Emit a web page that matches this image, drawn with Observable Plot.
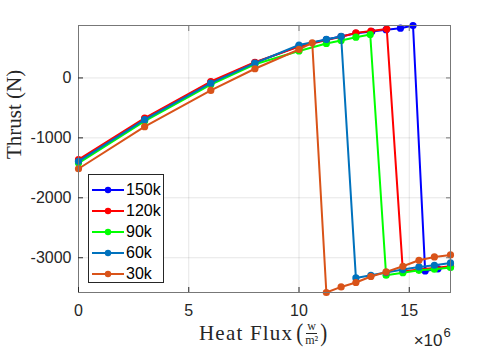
<!DOCTYPE html>
<html><head><meta charset="utf-8">
<script src="https://cdn.jsdelivr.net/npm/d3@7"></script>
<script src="https://cdn.jsdelivr.net/npm/@observablehq/plot@0.6"></script>
<style>
body{margin:0;background:#fff}
#wrap{position:relative;width:498px;height:349px;font-family:"Liberation Sans",Arial,sans-serif}
#legend{position:absolute;left:88px;top:174px;width:76px;height:109px;background:#fff;border:1px solid #262626;box-sizing:border-box;padding-top:4px}
.row{display:flex;align-items:center;height:21px;font-size:16px;color:#000}
.row svg{margin-left:2px;margin-right:1px}
#xlabel{position:absolute;left:199px;top:318px;height:30px;display:flex;align-items:center;font-family:"Liberation Serif","DejaVu Serif",serif;color:#262626;white-space:nowrap}
#xlabel .main{font-size:21px;letter-spacing:1.2px;line-height:1}
#xlabel .par{font-size:21px;display:inline-block;transform:scaleY(1.2);line-height:1}
#xlabel .frac{display:inline-flex;flex-direction:column;align-items:center;font-size:12px;line-height:1.05;margin:0 2px}
#xlabel .num{border-bottom:1px solid #262626;padding:0 1px}
</style>
</head><body><div id="wrap"></div>
<script>
const seriesNames = ["150k","120k","90k","60k","30k"];
const seriesColors = ["#0000ff","#ff0000","#00ff00","#0072bd","#d95319"];

const flux150 = [0,3,6,8,10,11.24,11.91,12.58,13.3,13.95,14.6,15.17,15.72,16.3,16.87];
const thrust150 = [-1380,-685,-75,255,530,640,690,745,775,805,830,875,-3220,-3185,-3150];

const flux120 = [0,3,6,8,10,11.24,11.91,12.58,13.26,13.98,14.71,15.44,16.14,16.87];
const thrust120 = [-1363,-670,-60,262,522,632,688,752,782,815,-3228,-3195,-3170,-3140];

const flux90 = [0,3,6,8,10,11.24,11.91,12.58,13.23,13.95,14.71,15.44,16.14,16.87];
const thrust90 = [-1420,-720,-110,228,450,575,625,680,725,-3292,-3250,-3210,-3192,-3163];

const flux60 = [0,3,6,8,10,11.24,11.91,12.58,13.26,13.95,14.71,15.44,16.14,16.87];
const thrust60 = [-1392,-697,-87,247,550,642,692,-3337,-3292,-3247,-3197,-3153,-3125,-3087];

const flux30 = [0,3,6,8,10,10.6,11.24,11.91,12.58,13.26,13.95,14.71,15.44,16.14,16.87];
const thrust30 = [-1515,-813,-208,153,475,587,-3580,-3487,-3413,-3313,-3237,-3142,-3042,-2987,-2953];

const xTicks = [0,5,10,15];
const yTicks = [-3000,-2000,-1000,0];
const xDomain = [0,16.87];
const yDomain = [-3580,875];

const fluxes = [flux150,flux120,flux90,flux60,flux30];
const thrusts = [thrust150,thrust120,thrust90,thrust60,thrust30];
const rows = [];
seriesNames.forEach((s,i)=>fluxes[i].forEach((f,j)=>rows.push({series:s, flux:f, thrust:thrusts[i][j]})));

const serif = "'Liberation Serif','DejaVu Serif',serif";
const ink = "#262626";

const marks = [
  Plot.gridX(xTicks,{stroke:"#000",strokeOpacity:0.1}),
  Plot.gridY(yTicks,{stroke:"#000",strokeOpacity:0.1}),
];
seriesNames.forEach((s,i)=>{
  const d = rows.filter(r=>r.series===s);
  marks.push(Plot.line(d,{x:"flux",y:"thrust",stroke:seriesColors[i],strokeWidth:2}));
  marks.push(Plot.dot(d,{x:"flux",y:"thrust",fill:seriesColors[i],r:3.6}));
});
marks.push(
  Plot.frame({stroke:"#777",strokeWidth:1}),
  Plot.axisX(xTicks,{anchor:"bottom",tickSize:-5,tickPadding:17,fontSize:16,color:ink,label:null,tickFormat:d=>String(d)}),
  Plot.axisX(xTicks,{anchor:"top",tickSize:-5,tickFormat:()=>"",label:null,stroke:"#777"}),
  Plot.axisY(yTicks,{anchor:"left",tickSize:-5,tickPadding:12,fontSize:16,color:ink,label:null,tickFormat:d=>String(d)}),
  Plot.axisY(yTicks,{anchor:"right",tickSize:-5,tickFormat:()=>"",label:null,stroke:"#777"}),
  Plot.text(["Thrust (N)"],{frameAnchor:"left",rotate:-90,dx:-64,fontSize:21,fontFamily:serif,fill:ink,letterSpacing:1}),
  Plot.text(["\u00d710"],{frameAnchor:"bottom-right",lineAnchor:"middle",textAnchor:"end",dx:-8,dy:48,fontSize:17,fill:ink}),
  Plot.text(["6"],{frameAnchor:"bottom-right",lineAnchor:"middle",textAnchor:"start",dx:-7,dy:40,fontSize:13,fill:ink})
);

const chart = Plot.plot({
  width:498,height:349,
  marginLeft:78,marginRight:48,marginTop:25,marginBottom:57,
  style:{fontFamily:"'Liberation Sans',Arial,sans-serif",background:"#fff",overflow:"visible"},
  x:{domain:xDomain},
  y:{domain:yDomain},
  marks
});
const wrap = document.getElementById("wrap");
wrap.appendChild(chart);

const xlabel = document.createElement("div");
xlabel.id = "xlabel";
xlabel.innerHTML = `<span class="main">Heat Flux</span><span class="par" style="margin-left:3px">(</span><span class="frac"><span class="num">w</span><span>m\u00b2</span></span><span class="par">)</span>`;
wrap.appendChild(xlabel);

const legend = document.createElement("div");
legend.id = "legend";
seriesNames.forEach((s,i)=>{
  const row = document.createElement("div");
  row.className="row";
  row.innerHTML = `<svg width="34" height="10"><line x1="1" y1="5" x2="33" y2="5" stroke="${seriesColors[i]}" stroke-width="2"/><circle cx="17" cy="5" r="3.2" fill="${seriesColors[i]}"/></svg><span>${s}</span>`;
  legend.appendChild(row);
});
wrap.appendChild(legend);
</script>
</body></html>
